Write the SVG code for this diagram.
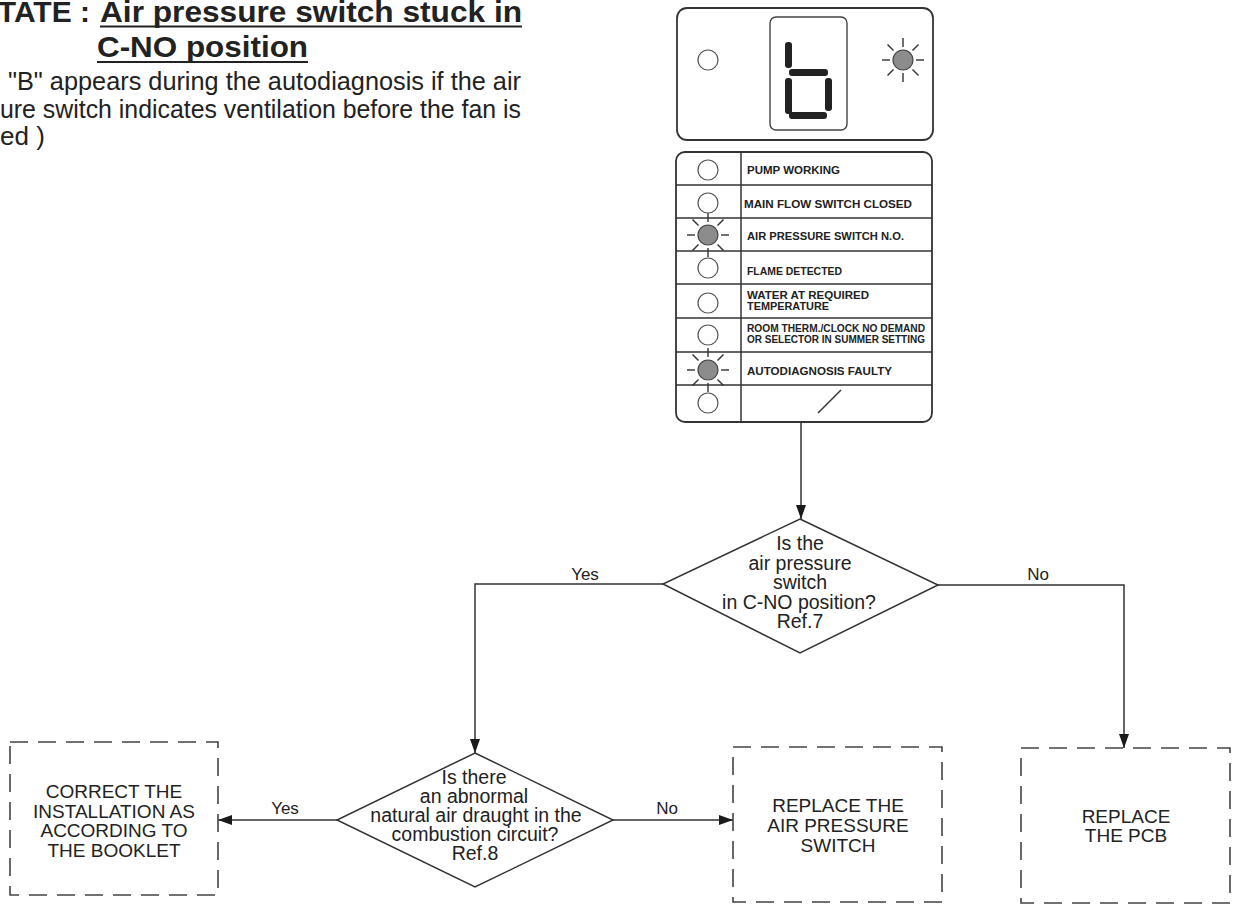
<svg xmlns="http://www.w3.org/2000/svg" width="1238" height="904" viewBox="0 0 1238 904">
<defs>
<marker id="arr" viewBox="0 0 14 10" refX="14" refY="5" markerWidth="14" markerHeight="10" markerUnits="userSpaceOnUse" orient="auto">
<path d="M0,0 L14,5 L0,10 z" fill="#1a1a1a"/>
</marker>
<g id="ray">
<line x1="0" y1="-13" x2="0" y2="-22"/>
<line x1="0" y1="13" x2="0" y2="22"/>
<line x1="-13" y1="0" x2="-21" y2="0"/>
<line x1="13" y1="0" x2="21" y2="0"/>
<line x1="-9.5" y1="-9.5" x2="-15.5" y2="-15.5"/>
<line x1="9.5" y1="-9.5" x2="15.5" y2="-15.5"/>
<line x1="-9.5" y1="9.5" x2="-15.5" y2="15.5"/>
<line x1="9.5" y1="9.5" x2="15.5" y2="15.5"/>
</g>
</defs>
<style>
.t{font-family:"Liberation Sans",Arial,sans-serif;fill:#222}
.title{font-size:30px;font-weight:bold}
.body{font-size:26px}
.p{font-size:11px;font-weight:bold}
.ps{font-size:10px;font-weight:bold}
.d{font-size:19.5px;text-anchor:middle}
.b{font-size:19px;text-anchor:middle}
.lab{font-size:17px;text-anchor:middle}
.box{fill:none;stroke:#444;stroke-width:1.6;stroke-dasharray:18 10}
.dia{fill:#fff;stroke:#333;stroke-width:1.5}
.ln{fill:none;stroke:#333;stroke-width:1.5}
.led{fill:#fff;stroke:#555;stroke-width:1.2}
.lit{fill:#8c8c8c;stroke:#444;stroke-width:1.2}
.rays{stroke:#333;stroke-width:1.4}
.seg{fill:#222}
</style>
<rect width="1238" height="904" fill="#fff"/>

<g id="header">
<text class="t title" x="90" y="22" text-anchor="end">STATE :</text>
<text class="t title" x="100" y="22" textLength="422" lengthAdjust="spacingAndGlyphs">Air pressure switch stuck in</text>
<line x1="100" y1="26.5" x2="522" y2="26.5" stroke="#222" stroke-width="2.2"/>
<text class="t title" x="97" y="57" textLength="211" lengthAdjust="spacingAndGlyphs">C-NO position</text>
<line x1="97" y1="62" x2="308" y2="62" stroke="#222" stroke-width="2.2"/>
<text class="t body" x="8" y="90" textLength="513" lengthAdjust="spacingAndGlyphs">"B" appears during the autodiagnosis if the air</text>
<text class="t body" x="0" y="118" textLength="521" lengthAdjust="spacingAndGlyphs">ure switch indicates ventilation before the fan is</text>
<text class="t body" x="0" y="145">ed )</text>
</g>

<g id="display">
<rect x="677" y="8" width="256" height="132" rx="10" fill="#fff" stroke="#333" stroke-width="1.8"/>
<rect x="770" y="17" width="77" height="113" rx="6" fill="#fff" stroke="#444" stroke-width="1.4"/>
<circle class="led" cx="708" cy="60" r="10"/>
<use href="#ray" class="rays" x="903" y="60"/>
<circle class="lit" cx="903" cy="60" r="10"/>
<rect class="seg" x="785" y="42" width="7" height="26" rx="3"/>
<rect class="seg" x="789" y="69" width="39" height="7" rx="3"/>
<rect class="seg" x="785" y="78" width="7" height="36" rx="3"/>
<rect class="seg" x="825" y="78" width="7" height="33" rx="3"/>
<rect class="seg" x="789" y="112" width="38" height="7" rx="3"/>
</g>

<g id="status-panel">
<rect x="676" y="152" width="256" height="270" rx="9" fill="#fff" stroke="#333" stroke-width="1.8"/>
<line class="ln" x1="741" y1="152" x2="741" y2="422"/>
<line class="ln" x1="676" y1="185" x2="932" y2="185"/>
<line class="ln" x1="676" y1="218" x2="932" y2="218"/>
<line class="ln" x1="676" y1="251" x2="932" y2="251"/>
<line class="ln" x1="676" y1="284" x2="932" y2="284"/>
<line class="ln" x1="676" y1="318" x2="932" y2="318"/>
<line class="ln" x1="676" y1="352" x2="932" y2="352"/>
<line class="ln" x1="676" y1="385" x2="932" y2="385"/>
<use href="#ray" class="rays" x="708" y="235"/>
<use href="#ray" class="rays" x="708" y="370"/>
<circle class="led" cx="708" cy="170" r="10"/>
<circle class="led" cx="708" cy="203" r="10"/>
<circle class="lit" cx="708" cy="235" r="10"/>
<circle class="led" cx="708" cy="268" r="10"/>
<circle class="led" cx="708" cy="303" r="10"/>
<circle class="led" cx="708" cy="335" r="10"/>
<circle class="lit" cx="708" cy="370" r="10"/>
<circle class="led" cx="708" cy="403" r="10"/>
<text class="t p" x="747" y="174" textLength="93" lengthAdjust="spacingAndGlyphs">PUMP WORKING</text>
<text class="t p" x="744" y="208" textLength="168" lengthAdjust="spacingAndGlyphs">MAIN FLOW SWITCH CLOSED</text>
<text class="t p" x="747" y="240" textLength="157" lengthAdjust="spacingAndGlyphs">AIR PRESSURE SWITCH N.O.</text>
<text class="t p" x="747" y="275" textLength="95" lengthAdjust="spacingAndGlyphs">FLAME DETECTED</text>
<text class="t p" x="747" y="299" textLength="122" lengthAdjust="spacingAndGlyphs">WATER AT REQUIRED</text>
<text class="t p" x="747" y="310" textLength="82" lengthAdjust="spacingAndGlyphs">TEMPERATURE</text>
<text class="t ps" x="747" y="332" textLength="178" lengthAdjust="spacingAndGlyphs">ROOM THERM./CLOCK NO DEMAND</text>
<text class="t ps" x="747" y="343" textLength="178" lengthAdjust="spacingAndGlyphs">OR SELECTOR IN SUMMER SETTING</text>
<text class="t p" x="747" y="375" textLength="145" lengthAdjust="spacingAndGlyphs">AUTODIAGNOSIS FAULTY</text>
<line class="ln" x1="818" y1="413" x2="841" y2="390"/>
</g>

<g id="connectors">
<line class="ln" x1="801" y1="422" x2="801" y2="519" marker-end="url(#arr)"/>
<polyline class="ln" points="663,584 475,584 475,753" marker-end="url(#arr)"/>
<polyline class="ln" points="938,585 1124,585 1124,748" marker-end="url(#arr)"/>
<line class="ln" x1="337" y1="820" x2="218" y2="820" marker-end="url(#arr)"/>
<line class="ln" x1="613" y1="820" x2="733" y2="820" marker-end="url(#arr)"/>
<text class="t lab" x="585" y="580">Yes</text>
<text class="t lab" x="1038" y="580">No</text>
<text class="t lab" x="285" y="814">Yes</text>
<text class="t lab" x="667" y="814">No</text>
</g>

<g id="decision1">
<polygon class="dia" points="800,519 938,585 800,653 663,584"/>
<text class="t d" x="800" y="550">Is the</text>
<text class="t d" x="800" y="569.5">air pressure</text>
<text class="t d" x="800" y="589">switch</text>
<text class="t d" x="799" y="608.5">in C-NO position?</text>
<text class="t d" x="800" y="628">Ref.7</text>
</g>

<g id="decision2">
<polygon class="dia" points="475,753 613,820 475,887 337,820"/>
<text class="t d" x="474" y="784">Is there</text>
<text class="t d" x="474" y="803">an abnormal</text>
<text class="t d" x="476" y="822">natural air draught in the</text>
<text class="t d" x="475" y="841">combustion circuit?</text>
<text class="t d" x="475" y="860">Ref.8</text>
</g>

<g id="box-correct">
<rect class="box" x="10" y="742" width="208" height="153"/>
<text class="t b" x="114" y="798">CORRECT THE</text>
<text class="t b" x="114" y="818">INSTALLATION AS</text>
<text class="t b" x="114" y="837">ACCORDING TO</text>
<text class="t b" x="114" y="857">THE BOOKLET</text>
</g>

<g id="box-switch">
<rect class="box" x="733" y="747" width="209" height="155"/>
<text class="t b" x="838" y="812">REPLACE THE</text>
<text class="t b" x="838" y="832">AIR PRESSURE</text>
<text class="t b" x="838" y="852">SWITCH</text>
</g>

<g id="box-pcb">
<rect class="box" x="1021" y="748" width="209" height="155"/>
<text class="t b" x="1126" y="823">REPLACE</text>
<text class="t b" x="1126" y="842">THE PCB</text>
</g>
</svg>
